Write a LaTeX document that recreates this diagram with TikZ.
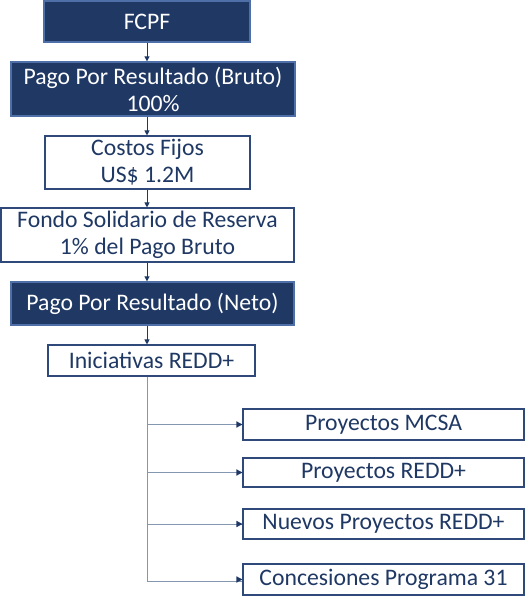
\documentclass[tikz,border=0pt]{standalone}
\usepackage{fontspec}
\setmainfont{Carlito}
\usetikzlibrary{arrows.meta}
\definecolor{navy}{HTML}{1F3864}
\definecolor{navyedge}{HTML}{4F6FA8}
\definecolor{boxedge}{HTML}{2F4A7A}
\definecolor{txt}{HTML}{1F3864}
\definecolor{branch}{HTML}{8496B0}
\begin{document}
\begin{tikzpicture}[x=1pt,y=-1pt,
  darkbox/.style={draw=navyedge,line width=1.3pt,fill=navy,text=white,inner sep=0pt,align=center,font=\fontsize{23.7}{27}\selectfont},
  lightbox/.style={draw=boxedge,line width=1.1pt,fill=white,text=txt,inner sep=0pt,align=center,font=\fontsize{23.7}{27}\selectfont},
  flow/.style={draw=navy,line width=1pt,-{Triangle[length=5pt,width=5pt]}},
  br/.style={draw=branch,line width=1pt}]
\useasboundingbox (0,0) rectangle (525,608);
\node[darkbox,minimum width=206pt,minimum height=41pt] (fcpf) at (147,21.5) {FCPF};
\node[darkbox,minimum width=284pt,minimum height=54pt] (bruto) at (153,89) {Pago Por Resultado (Bruto)\\100\%};
\node[lightbox,minimum width=205pt,minimum height=53pt] (costos) at (147.5,162.5) {Costos Fijos\\US\$ 1.2M};
\node[lightbox,minimum width=293pt,minimum height=54pt] (fondo) at (147.5,235) {Fondo Solidario de Reserva\\1\% del Pago Bruto};
\node[darkbox,minimum width=283pt,minimum height=43pt] (neto) at (152.5,303.5) {Pago Por Resultado (Neto)};
\node[lightbox,minimum width=207pt,minimum height=31pt] (inic) at (151.5,360.5) {Iniciativas REDD+};
\node[lightbox,minimum width=281pt,minimum height=31pt] (p1) at (383.5,424.5) {Proyectos MCSA};
\node[lightbox,minimum width=281pt,minimum height=29pt] (p2) at (383.5,472.5) {Proyectos REDD+};
\node[lightbox,minimum width=281pt,minimum height=30pt] (p3) at (383.5,524) {Nuevos Proyectos REDD+};
\node[lightbox,minimum width=281pt,minimum height=31pt] (p4) at (383.5,579.5) {Concesiones Programa 31};
\coordinate (top) at (147,376);
\coordinate (bot) at (147,581);
\draw[flow] (fcpf.south) -- (fcpf.south |- bruto.north);
\draw[flow] (fcpf.south |- bruto.south) -- (costos.north -| fcpf.south);
\draw[flow] (costos.south -| fcpf.south) -- (fondo.north -| fcpf.south);
\draw[flow] (fondo.south -| fcpf.south) -- (neto.north -| fcpf.south);
\draw[flow] (neto.south -| fcpf.south) -- (inic.north -| fcpf.south);
\draw[br] (inic.south -| top) -- (bot);
\draw[br] (top |- p1.west) -- (p1.west);
\draw[br] (top |- p2.west) -- (p2.west);
\draw[br] (top |- p3.west) -- (p3.west);
\draw[br] (bot) -- (bot -| p4.west);
\foreach \n in {p1,p2,p3,p4}{
  \fill[navy] (\n.west) -- ++(-6,-3.2) -- ++(0,6.4) -- cycle;
}
\end{tikzpicture}
\end{document}
